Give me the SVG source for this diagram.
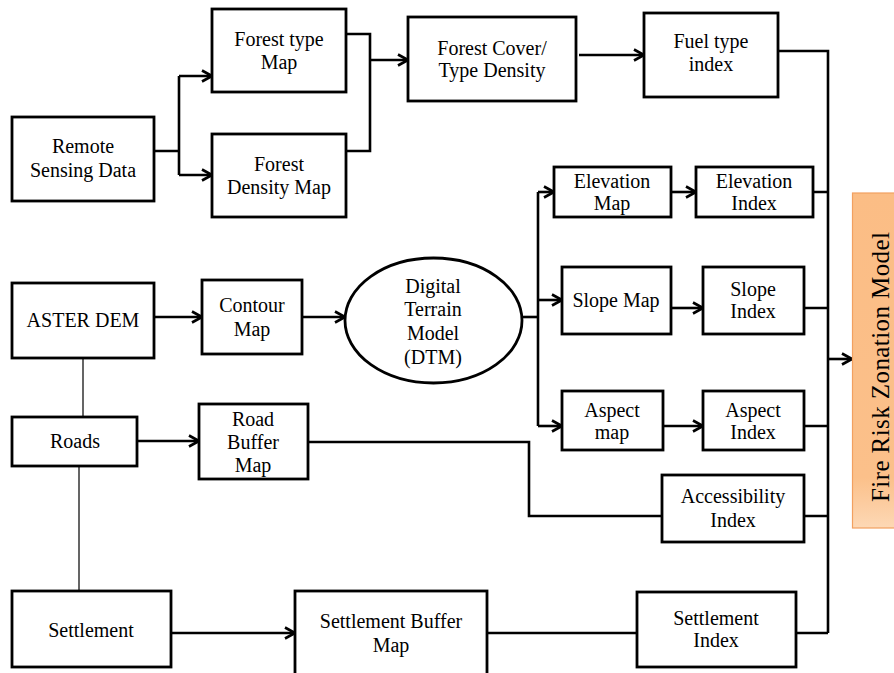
<svg xmlns="http://www.w3.org/2000/svg" width="894" height="673" viewBox="0 0 894 673">
<style>
.box{fill:#fff;stroke:#000;stroke-width:2.8}
.t{font-family:Liberation Serif, Times New Roman, serif;font-size:20px;fill:#000;text-anchor:middle}
.c{fill:none;stroke:#000;stroke-width:2.6}
.g{fill:none;stroke:#555;stroke-width:1.8}
</style>
<defs>
<marker id="arr" viewBox="0 0 12 14" refX="11" refY="7" markerWidth="12" markerHeight="14" markerUnits="userSpaceOnUse" orient="auto">
<path d="M1,1.5 L11,7 L1,12.5" fill="none" stroke="#000" stroke-width="2.6"/>
</marker>
<linearGradient id="og" x1="0" y1="0" x2="0" y2="1">
<stop offset="0" stop-color="#FBBD85"/>
<stop offset="0.85" stop-color="#FBC08A"/>
<stop offset="1" stop-color="#FDD8B5"/>
</linearGradient>
</defs>

<g id="connectors">
<path class="c" d="M154,151 H179 M179,76 V175"/>
<path class="c" d="M179,76 H212" marker-end="url(#arr)"/>
<path class="c" d="M179,175 H212" marker-end="url(#arr)"/>
<path class="c" d="M346,34 H370 V151 H346"/>
<path class="c" d="M370,60 H408" marker-end="url(#arr)"/>
<path class="c" d="M579,55 H644" marker-end="url(#arr)"/>
<path class="c" d="M778,51 H828 V633"/>
<path class="c" d="M813,192 H828 M804,308 H828 M804,426 H828 M804,516 H828 M796,633 H828"/>
<path class="c" d="M828,359 H852" marker-end="url(#arr)"/>
<path class="c" d="M154,317 H202" marker-end="url(#arr)"/>
<path class="c" d="M302,317 H345" marker-end="url(#arr)"/>
<path class="c" d="M522,317 H538"/>
<path class="c" d="M538,192 V426"/>
<path class="c" d="M538,192 H554" marker-end="url(#arr)"/>
<path class="c" d="M538,300 H562" marker-end="url(#arr)"/>
<path class="c" d="M538,426 H562" marker-end="url(#arr)"/>
<path class="c" d="M671,192 H696" marker-end="url(#arr)"/>
<path class="c" d="M671,308 H703" marker-end="url(#arr)"/>
<path class="c" d="M663,426 H703" marker-end="url(#arr)"/>
<path class="g" d="M83,358 V417 M79,466 V591"/>
<path class="c" d="M137,441 H199" marker-end="url(#arr)"/>
<path class="c" d="M308,442 H529 V516 H662"/>
<path class="c" d="M171,633 H295" marker-end="url(#arr)"/>
<path class="c" d="M487,633 H637"/>
</g>

<g id="remote-sensing"><rect class="box" x="12" y="117" width="142" height="84"/><text class="t" x="83" y="153">Remote</text><text class="t" x="83" y="177">Sensing Data</text></g>
<g id="forest-type"><rect class="box" x="212" y="9" width="134" height="83"/><text class="t" x="279" y="46">Forest type</text><text class="t" x="279" y="69">Map</text></g>
<g id="forest-density"><rect class="box" x="212" y="134" width="134" height="83"/><text class="t" x="279" y="171">Forest</text><text class="t" x="279" y="194">Density Map</text></g>
<g id="forest-cover"><rect class="box" x="408" y="17" width="168" height="84"/><text class="t" x="492" y="55">Forest Cover/</text><text class="t" x="492" y="77">Type Density</text></g>
<g id="fuel-type"><rect class="box" x="644" y="13" width="134" height="84"/><text class="t" x="711" y="48">Fuel type</text><text class="t" x="711" y="71">index</text></g>
<g id="elevation-map"><rect class="box" x="554" y="167" width="117" height="50"/><text class="t" x="612" y="188">Elevation</text><text class="t" x="612" y="210">Map</text></g>
<g id="elevation-index"><rect class="box" x="696" y="167" width="117" height="50"/><text class="t" x="754" y="188">Elevation</text><text class="t" x="754" y="210">Index</text></g>
<g id="slope-map"><rect class="box" x="562" y="267" width="109" height="67"/><text class="t" x="616" y="307">Slope Map</text></g>
<g id="slope-index"><rect class="box" x="703" y="267" width="101" height="67"/><text class="t" x="753" y="296">Slope</text><text class="t" x="753" y="318">Index</text></g>
<g id="aspect-map"><rect class="box" x="562" y="391" width="101" height="59"/><text class="t" x="612" y="417">Aspect</text><text class="t" x="612" y="439">map</text></g>
<g id="aspect-index"><rect class="box" x="703" y="391" width="101" height="59"/><text class="t" x="753" y="417">Aspect</text><text class="t" x="753" y="439">Index</text></g>
<g id="aster-dem"><rect class="box" x="12" y="283" width="142" height="75"/><text class="t" x="83" y="327">ASTER DEM</text></g>
<g id="contour-map"><rect class="box" x="202" y="280" width="100" height="74"/><text class="t" x="252" y="312">Contour</text><text class="t" x="252" y="336">Map</text></g>
<g id="dtm"><ellipse cx="433.5" cy="320.5" rx="88.5" ry="62.5" fill="#fff" stroke="#000" stroke-width="2.8"/><text class="t" x="433" y="293">Digital</text><text class="t" x="433" y="316">Terrain</text><text class="t" x="433" y="340">Model</text><text class="t" x="433" y="364">(DTM)</text></g>
<g id="roads"><rect class="box" x="12" y="417" width="125" height="49"/><text class="t" x="75" y="448">Roads</text></g>
<g id="road-buffer"><rect class="box" x="199" y="404" width="109" height="75"/><text class="t" x="253" y="426">Road</text><text class="t" x="253" y="449">Buffer</text><text class="t" x="253" y="472">Map</text></g>
<g id="accessibility-index"><rect class="box" x="662" y="475" width="142" height="67"/><text class="t" x="733" y="503">Accessibility</text><text class="t" x="733" y="527">Index</text></g>
<g id="settlement"><rect class="box" x="12" y="591" width="159" height="76"/><text class="t" x="91" y="637">Settlement</text></g>
<g id="settlement-buffer"><rect class="box" x="295" y="591" width="192" height="90"/><text class="t" x="391" y="628">Settlement Buffer</text><text class="t" x="391" y="652">Map</text></g>
<g id="settlement-index"><rect class="box" x="637" y="592" width="159" height="75"/><text class="t" x="716" y="625">Settlement</text><text class="t" x="716" y="647">Index</text></g>
<g id="fire-risk-model"><rect x="852.5" y="193" width="50" height="335" fill="url(#og)" stroke="#F2A060" stroke-width="1.2"/><text class="t" x="0" y="0" transform="translate(889,367) rotate(-90)" style="font-size:25px" textLength="270">Fire Risk Zonation Model</text></g>
</svg>
